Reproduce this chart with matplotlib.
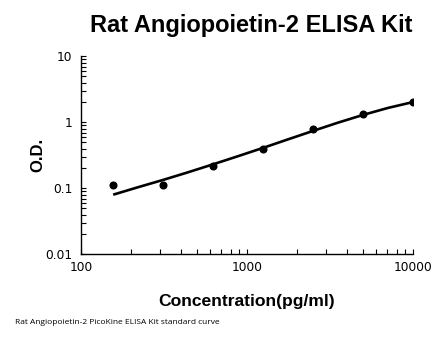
import numpy as np
import matplotlib
matplotlib.use("Agg")
import matplotlib.pyplot as plt
from matplotlib.ticker import LogLocator, NullFormatter, FixedLocator, FixedFormatter

# Pontos do padrao (concentracao em pg/ml e O.D.)
concentracao = [156.25, 312.5, 625, 1250, 2500, 5000, 10000]
od = [0.112, 0.112, 0.22, 0.394, 0.79, 1.35, 2.03]

# Curva ajustada
curva_x = [156.25, 221, 312.5, 442, 625, 884, 1250, 1768, 2500, 3536, 5000, 7071, 10000]
curva_y = [0.080, 0.104, 0.134, 0.175, 0.231, 0.307, 0.410, 0.552, 0.741, 0.989, 1.294, 1.652, 2.028]

x_ticks = [100, 1000, 10000]
x_labels = ["100", "1000", "10000"]
y_ticks = [0.01, 0.1, 1, 10]
y_labels = ["0.01", "0.1", "1", "10"]

plt.rcParams['font.family'] = ['Liberation Sans', 'DejaVu Sans']

fig = plt.figure(figsize=(4.46, 3.56), dpi=100)
ax = fig.add_axes([0.1816, 0.2857, 0.7444, 0.5561])

ax.plot(curva_x, curva_y, color='black', linewidth=1.9, solid_capstyle='butt')
ax.plot(concentracao, od, 'o', color='black', markersize=4.8)

ax.set_xscale('log')
ax.set_yscale('log')
ax.set_xlim(100, 10000)
ax.set_ylim(0.01, 10)

ax.xaxis.set_major_locator(FixedLocator(x_ticks))
ax.xaxis.set_major_formatter(FixedFormatter(x_labels))
ax.yaxis.set_major_locator(FixedLocator(y_ticks))
ax.yaxis.set_major_formatter(FixedFormatter(y_labels))
ax.xaxis.set_minor_locator(LogLocator(base=10, subs=np.arange(2, 10)))
ax.yaxis.set_minor_locator(LogLocator(base=10, subs=np.arange(2, 10)))
ax.xaxis.set_minor_formatter(NullFormatter())
ax.yaxis.set_minor_formatter(NullFormatter())

ax.tick_params(which='both', direction='in', length=3.5, width=0.8, color='black')
ax.tick_params(axis='x', pad=5)
ax.tick_params(axis='y', pad=6)
for rotulo in ax.get_xticklabels() + ax.get_yticklabels():
    rotulo.set_family('DejaVu Sans')
    rotulo.set_fontsize(8.8)

for lado in ['top', 'right']:
    ax.spines[lado].set_visible(False)
for lado in ['left', 'bottom']:
    ax.spines[lado].set_linewidth(1.0)

ax.set_xlabel("Concentration(pg/ml)", fontsize=12.6, fontweight='bold')
ax.set_ylabel("O.D.", fontsize=12, fontweight='bold')
ax.xaxis.set_label_coords(0.5, -0.2)
ax.yaxis.set_label_coords(-0.108, 0.5)

fig.text(0.563, 0.928, "Rat Angiopoietin-2 ELISA Kit", fontsize=17, fontweight='bold',
         ha='center', va='center')
fig.text(0.034, 0.093, "Rat Angiopoietin-2 PicoKine ELISA Kit standard curve",
         fontsize=6.0, family=['Open Sans', 'DejaVu Sans'], ha='left', va='center')

fig.savefig("out.png", dpi=100)
